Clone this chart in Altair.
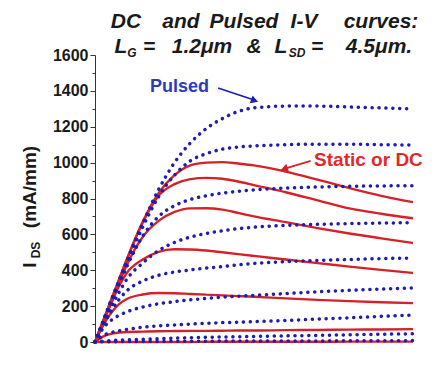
import altair as alt
import pandas as pd

# ---------------- data ----------------
V_GRID = [0, 0.25, 0.5, 0.75, 1, 1.5, 2, 2.5, 3, 3.5, 4, 4.5, 5, 6, 7, 8, 9, 10]

PULSED_1 = [0, 115, 230, 340, 450, 660, 850, 1000, 1110, 1190, 1245, 1285, 1305, 1315, 1315, 1310, 1305, 1300]
PULSED_2 = [0, 112, 225, 332, 440, 640, 810, 930, 1010, 1050, 1075, 1087, 1093, 1100, 1103, 1103, 1100, 1098]
PULSED_3 = [0, 108, 215, 320, 420, 590, 700, 760, 795, 815, 830, 840, 848, 858, 864, 868, 870, 871]
PULSED_4 = [0, 100, 190, 275, 350, 440, 510, 555, 585, 605, 620, 632, 640, 650, 656, 660, 663, 665]
PULSED_5 = [0, 90, 170, 235, 285, 340, 372, 390, 402, 412, 420, 430, 438, 448, 455, 460, 465, 468]
PULSED_6 = [0, 75, 120, 148, 168, 195, 213, 225, 235, 243, 250, 255, 260, 270, 280, 288, 295, 301]
PULSED_7 = [0, 35, 52, 62, 70, 82, 90, 95, 100, 104, 108, 110, 113, 120, 128, 135, 143, 150]
PULSED_8 = [0, 5, 8, 10, 12, 15, 18, 21, 24, 26, 28, 29, 31, 34, 37, 40, 43, 46]
PULSED_9 = [0, 1, 2, 2, 3, 3, 3, 4, 4, 4, 5, 5, 5, 6, 6, 7, 7, 8]

DC_1 = [0, 115, 230, 345, 460, 670, 830, 930, 985, 1000, 1003, 995, 985, 950, 905, 858, 815, 780]
DC_2 = [0, 115, 230, 345, 460, 665, 815, 880, 908, 915, 910, 895, 875, 835, 790, 745, 715, 690]
DC_3 = [0, 112, 222, 330, 430, 585, 675, 725, 745, 746, 738, 720, 700, 668, 635, 605, 578, 552]
DC_4 = [0, 105, 210, 310, 385, 460, 503, 517, 516, 510, 500, 490, 480, 460, 440, 420, 402, 385]
DC_5 = [0, 90, 160, 210, 240, 265, 273, 272, 268, 264, 260, 256, 252, 243, 235, 228, 222, 217]
DC_6 = [0, 30, 45, 52, 56, 58, 60, 61, 62, 62, 63, 64, 64, 66, 67, 69, 70, 72]
DC_7 = [0, 0, 0, 0, 0, 0, 0, 0, 0, 1, 1, 1, 1, 1, 1, 2, 2, 2]

X_TICKS = [0, 2, 4, 6, 8, 10]
Y_TICKS = [0, 200, 400, 600, 800, 1000, 1200, 1400, 1600]
Y_MINOR = [100, 300, 500, 700, 900, 1100, 1300, 1500]

PULSED = [PULSED_1, PULSED_2, PULSED_3, PULSED_4, PULSED_5, PULSED_6, PULSED_7, PULSED_8, PULSED_9]
DC = [DC_1, DC_2, DC_3, DC_4, DC_5, DC_6, DC_7]


def table(curves, prefix):
    rows = []
    for k, curve in enumerate(curves):
        for v, i in zip(V_GRID, curve):
            rows.append({"curve": f"{prefix}{k}", "vds": v, "ids": i})
    return pd.DataFrame(rows)


pulsed_df = table(PULSED, "P")
dc_df = table(DC, "D")

RED = "#d42228"
BLUE = "#1d1db0"
LABEL_BLUE = "#2b3bbf"
FONT = "Liberation Sans"

x_scale = alt.Scale(domain=[0, 10], nice=False, zero=False)
y_scale = alt.Scale(domain=[0, 1600], nice=False)

axis_common = dict(
    title=None, grid=False, labelFont=FONT, labelFontSize=16, labelFontWeight="bold",
    labelColor="#1a1a1a", tickColor="#333333", domainColor="#333333", tickSize=5,
    domainWidth=1, tickWidth=1,
)

x_main = alt.X("vds:Q", scale=x_scale,
               axis=alt.Axis(values=X_TICKS, format="d", labelPadding=5, orient="bottom", **axis_common))
x_plain = alt.X("vds:Q", scale=x_scale, axis=None)
y_main = alt.Y("ids:Q", scale=y_scale,
               axis=alt.Axis(values=Y_TICKS, format="d", labelPadding=2, orient="left", **axis_common))
y_plain = alt.Y("ids:Q", scale=y_scale, axis=None)
y_minor = alt.Y("ids:Q", scale=y_scale,
                axis=alt.Axis(values=Y_MINOR, labels=False, domain=False, tickSize=3, tickColor="#333333",
                              grid=False, title=None, orient="left"))

red_lines = alt.Chart(dc_df).mark_line(
    color=RED, strokeWidth=2.4, interpolate="monotone"
).encode(x=x_main, y=y_main, detail="curve:N")

minor_layer = alt.Chart(dc_df).mark_point(opacity=0).encode(x=x_plain, y=y_minor)

blue_dots = alt.Chart(pulsed_df).mark_line(
    color=BLUE, strokeWidth=3.5, strokeDash=[0.1, 6.8], strokeCap="round", interpolate="monotone"
).encode(x=x_plain, y=y_plain, detail="curve:N")

# ---------------- annotations ----------------
pulsed_label = alt.Chart(pd.DataFrame({"vds": [1.73], "ids": [1422], "t": ["Pulsed"]})).mark_text(
    align="left", baseline="middle", font=FONT, fontSize=18, fontWeight="bold", color=LABEL_BLUE
).encode(x=x_plain, y=y_plain, text="t:N")

pulsed_arrow = alt.Chart(pd.DataFrame({"vds": [3.87], "ids": [1416], "v2": [4.98], "i2": [1350]})).mark_rule(
    color=BLUE, strokeWidth=1.6
).encode(x=x_plain, y=y_plain, x2="v2:Q", y2="i2:Q")

pulsed_head = alt.Chart(pd.DataFrame({"vds": [5.02], "ids": [1346]})).mark_point(
    shape="triangle-right", angle=19, size=70, filled=True, color=BLUE, opacity=1
).encode(x=x_plain, y=y_plain)

dc_label = alt.Chart(pd.DataFrame({"vds": [6.89], "ids": [1013], "t": ["Static or DC"]})).mark_text(
    align="left", baseline="middle", font=FONT, fontSize=19, fontWeight="bold", color="#e02a2a"
).encode(x=x_plain, y=y_plain, text="t:N")

dc_arrow = alt.Chart(pd.DataFrame({"vds": [6.78], "ids": [1010], "v2": [6.0], "i2": [968]})).mark_rule(
    color=RED, strokeWidth=1.8
).encode(x=x_plain, y=y_plain, x2="v2:Q", y2="i2:Q")

dc_head = alt.Chart(pd.DataFrame({"vds": [5.95], "ids": [965]})).mark_point(
    shape="triangle-left", angle=342, size=70, filled=True, color=RED, opacity=1
).encode(x=x_plain, y=y_plain)

# title pieces, in pixels relative to the plot area
title_df = pd.DataFrame({
    "t": ["DC", "and", "Pulsed", "I-V", "curves:",
          "L", "G", "=", "1.2μm", "&", "L", "SD", "=", "4.5μm."],
    "px": [31, 86, 149, 209, 286,
           26, 37, 54, 107, 159, 186, 202, 222, 284],
    "py": [-27, -27, -27, -27, -27,
           -2, 2, -2, -2, -2, -2, 2, -2, -2],
    "fs": [21, 21, 21, 21, 21,
           21, 12, 21, 21, 21, 21, 12, 21, 21],
})
title_layer = alt.Chart(title_df).mark_text(
    align="center", baseline="alphabetic", font=FONT, fontWeight="bold", fontStyle="italic", color="#1a1a1a"
).encode(
    x=alt.X("px:Q", scale=None), y=alt.Y("py:Q", scale=None),
    size=alt.Size("fs:Q", scale=None, legend=None), text="t:N"
)

ylab_df = pd.DataFrame({
    "t": ["I", "DS", "(mA/mm)"],
    "px": [-59, -55, -59],
    "py": [210, 195, 132],
    "fs": [19, 12, 19],
})
ylab_layer = alt.Chart(ylab_df).mark_text(
    align="center", baseline="alphabetic", angle=270, font=FONT, fontWeight="bold", color="#1a1a1a"
).encode(
    x=alt.X("px:Q", scale=None), y=alt.Y("py:Q", scale=None),
    size=alt.Size("fs:Q", scale=None, legend=None), text="t:N"
)

chart = alt.layer(
    red_lines, minor_layer, blue_dots,
    pulsed_arrow, pulsed_head, pulsed_label,
    dc_arrow, dc_head, dc_label,
    title_layer, ylab_layer,
).resolve_axis(y="independent").properties(
    width=318, height=287,
    autosize=alt.AutoSizeParams(type="none"),
    padding={"left": 87, "top": 47, "right": 16, "bottom": 24},
    background="white",
).configure_view(stroke=None)

chart.save("out.html", embed_options={"renderer": "svg", "actions": False})
